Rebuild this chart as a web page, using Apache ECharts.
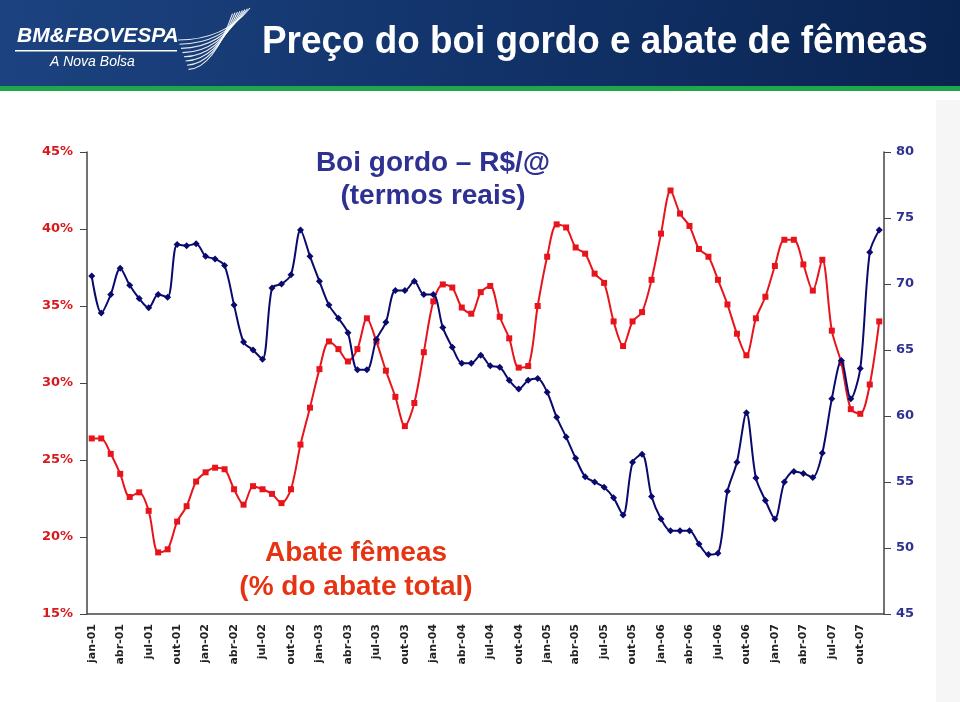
<!DOCTYPE html>
<html>
<head>
<meta charset="utf-8">
<script src="https://cdn.jsdelivr.net/npm/echarts@6/dist/echarts.min.js"></script>
<style>
html,body{margin:0;padding:0;background:#fff;}
#c{width:960px;height:702px;}
</style>
</head>
<body>
<div id="c"></div>
<script>
const monthNames = ['jan','fev','mar','abr','mai','jun','jul','ago','set','out','nov','dez'];
const years = ['01','02','03','04','05','06','07'];
const categories = [];
years.forEach(y => monthNames.forEach(m => categories.push(m + '-' + y)));

// Abate de fêmeas (% do abate total) - left axis
const abateFemeas = [
  26.4, 26.4, 25.4, 24.1, 22.6, 22.9, 21.7, 19.0, 19.2, 21.0, 22.0, 23.6,
  24.2, 24.5, 24.4, 23.1, 22.1, 23.3, 23.1, 22.8, 22.2, 23.1, 26.0, 28.4,
  30.9, 32.7, 32.2, 31.4, 32.2, 34.2, 32.7, 30.8, 29.1, 27.2, 28.7, 32.0,
  35.3, 36.4, 36.2, 34.9, 34.5, 35.9, 36.3, 34.3, 32.9, 31.0, 31.1, 35.0,
  38.2, 40.3, 40.1, 38.8, 38.4, 37.1, 36.5, 34.0, 32.4, 34.0, 34.6, 36.7,
  39.7, 42.5, 41.0, 40.2, 38.7, 38.2, 36.7, 35.1, 33.2, 31.8, 34.2, 35.6,
  37.6, 39.3, 39.3, 37.7, 36.0, 38.0, 33.4, 31.3, 28.3, 28.0, 29.9, 34.0
];

// Boi gordo R$/@ (termos reais) - right axis
const boiGordo = [
  70.6, 67.8, 69.2, 71.2, 69.9, 68.9, 68.2, 69.2, 69.0, 73.0, 72.9, 73.05,
  72.1, 71.9, 71.4, 68.4, 65.6, 65.0, 64.3, 69.7, 70.0, 70.7, 74.1, 72.1,
  70.2, 68.4, 67.4, 66.3, 63.5, 63.5, 65.8, 67.1, 69.5, 69.5, 70.2, 69.2,
  69.2, 66.7, 65.2, 64.0, 64.0, 64.6, 63.8, 63.7, 62.7, 62.05, 62.7, 62.85,
  61.8, 59.9, 58.4, 56.8, 55.4, 55.0, 54.6, 53.8, 52.5, 56.5, 57.1, 53.9,
  52.2, 51.3, 51.3, 51.3, 50.3, 49.5, 49.6, 54.3, 56.5, 60.25, 55.3, 53.6,
  52.2, 55.0, 55.8, 55.65, 55.35, 57.2, 61.3, 64.2, 61.3, 63.6, 72.4, 74.1
];

const leftTicks = {min: 15, max: 45, interval: 5};
const rightTicks = {min: 45, max: 80, interval: 5};

const chart = echarts.init(document.getElementById('c'), null, {renderer: 'canvas'});

const fanLines = [];
for (let k = 0; k < 8; k++) {
  fanLines.push({
    type: 'bezierCurve',
    shape: {x1: 178 + k * 1.5, y1: 40 + k * 4.2, x2: 250 - k * 2.5, y2: 8 + k * 0.8,
            cpx1: 224 - k * 1.5, cpy1: 40 + k * 4.0},
    style: {stroke: 'rgba(255,255,255,0.9)', lineWidth: 1.1, fill: null},
    z: 5
  });
}

const annFont = 'bold 28px "Liberation Sans", Arial, sans-serif';

chart.setOption({
  backgroundColor: '#ffffff',
  animation: false,
  graphic: [
    {type: 'rect', shape: {x: 0, y: 0, width: 960, height: 86},
     style: {fill: new echarts.graphic.LinearGradient(0, 0, 1, 1, [
       {offset: 0, color: '#1c4380'}, {offset: 0.5, color: '#12336a'}, {offset: 1, color: '#0a2451'}])}, z: 1},
    {type: 'rect', shape: {x: 0, y: 86, width: 960, height: 5}, style: {fill: '#1ea64b'}, z: 1},
    {type: 'rect', shape: {x: 936, y: 100, width: 24, height: 602}, style: {fill: '#f6f6f6'}, z: 0},
    {type: 'text', x: 17, y: 26, z: 5,
     style: {text: 'BM&FBOVESPA', fill: '#ffffff', font: 'italic bold 21px "Liberation Sans", sans-serif'},
     scaleX: 1.0},
    {type: 'rect', shape: {x: 15, y: 50, width: 162, height: 1.5}, style: {fill: '#ffffff'}, z: 5},
    {type: 'text', x: 50, y: 55, z: 5,
     style: {text: 'A Nova Bolsa', fill: '#ffffff', font: 'italic 14px "Liberation Sans", sans-serif'}},
    ...fanLines,
    {type: 'text', x: 262, y: 24, z: 5, scaleX: 0.97,
     style: {text: 'Preço do boi gordo e abate de fêmeas', fill: '#ffffff', font: 'bold 38px "Liberation Sans", sans-serif'}},
    {type: 'text', x: 433, y: 149, z: 10,
     style: {text: 'Boi gordo – R$/@', fill: '#2e3192', font: annFont, align: 'center'}},
    {type: 'text', x: 433, y: 182, z: 10,
     style: {text: '(termos reais)', fill: '#2e3192', font: annFont, align: 'center'}},
    {type: 'text', x: 356, y: 539, z: 10,
     style: {text: 'Abate fêmeas', fill: '#e63312', font: annFont, align: 'center'}},
    {type: 'text', x: 356, y: 573, z: 10,
     style: {text: '(% do abate total)', fill: '#e63312', font: annFont, align: 'center'}}
  ],
  grid: {left: 87, right: 76, top: 152, bottom: 88, containLabel: false},
  xAxis: {
    type: 'category',
    data: categories,
    boundaryGap: true,
    axisLine: {lineStyle: {color: '#444', width: 1.5}},
    axisTick: {interval: 0, length: 6, lineStyle: {color: '#444'}},
    axisLabel: {interval: 2, rotate: 90, color: '#222', fontSize: 11, fontWeight: 'bold',
                fontFamily: '"DejaVu Sans", sans-serif', margin: 10},
    splitLine: {show: false}
  },
  yAxis: [
    {type: 'value', position: 'left', min: leftTicks.min, max: leftTicks.max, interval: leftTicks.interval,
     axisLine: {show: true, lineStyle: {color: '#444', width: 1.5}},
     axisTick: {show: true, length: 7, lineStyle: {color: '#444'}},
     axisLabel: {formatter: '{value}%', color: '#d7191c', fontSize: 13, fontWeight: 'bold',
                 fontFamily: '"DejaVu Sans", sans-serif', margin: 14},
     splitLine: {show: false}},
    {type: 'value', position: 'right', min: rightTicks.min, max: rightTicks.max, interval: rightTicks.interval,
     axisLine: {show: true, lineStyle: {color: '#444', width: 1.5}},
     axisTick: {show: true, length: 7, lineStyle: {color: '#444'}},
     axisLabel: {color: '#2e3192', fontSize: 13, fontWeight: 'bold',
                 fontFamily: '"DejaVu Sans", sans-serif', margin: 12},
     splitLine: {show: false}}
  ],
  series: [
    {name: 'Abate fêmeas', type: 'line', yAxisIndex: 0, data: abateFemeas, smooth: 0.3,
     showAllSymbol: true, symbol: 'rect', symbolSize: 6, lineStyle: {color: '#e8141c', width: 2},
     itemStyle: {color: '#e8141c'}, z: 3},
    {name: 'Boi gordo', type: 'line', yAxisIndex: 1, data: boiGordo, smooth: 0.3,
     showAllSymbol: true, symbol: 'diamond', symbolSize: 7, lineStyle: {color: '#0a0a6e', width: 2},
     itemStyle: {color: '#0a0a6e'}, z: 4}
  ]
});
</script>
</body>
</html>
